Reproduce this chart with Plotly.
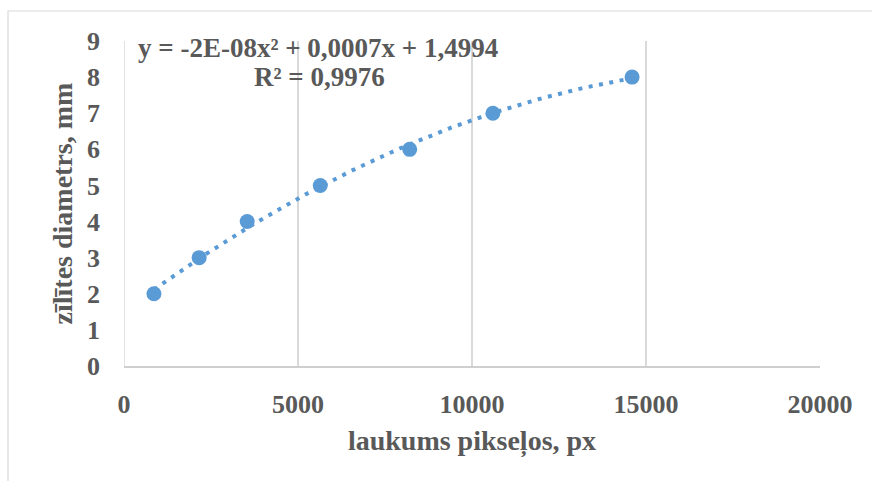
import numpy as np
import plotly.graph_objects as go

# Measured pixel area vs. pupil diameter
area_px = [860, 2160, 3540, 5640, 8210, 10600, 14600]
diameter_mm = [2, 3, 4, 5, 6, 7, 8]

x_ticks = [0, 5000, 10000, 15000, 20000]
x_tick_text = ["0", "5000", "10000", "15000", "20000"]
y_ticks = [0, 1, 2, 3, 4, 5, 6, 7, 8, 9]

eq_line1 = "y = -2E-08x² + 0,0007x + 1,4994"
eq_line2 = "R² = 0,9976"

BLUE = "#5B9BD5"
TEXT = "#595959"
GRID = "#D9D9D9"
FONT = "Liberation Serif"

# Second-order polynomial trendline over the data span
coef = np.polyfit(area_px, diameter_mm, 2)
xt = np.linspace(min(area_px), max(area_px), 200)
yt = np.polyval(coef, xt)

fig = go.Figure()
fig.add_trace(go.Scatter(
    x=xt, y=yt, mode="lines",
    line=dict(color=BLUE, width=4, dash="4px,6.5px"),
    hoverinfo="skip",
))
fig.add_trace(go.Scatter(
    x=area_px, y=diameter_mm, mode="markers",
    marker=dict(color=BLUE, size=15, line=dict(width=0)),
))


def px_x(p):
    return (p - 124) / 696


def px_y(p):
    return (366 - p) / 325


fig.update_layout(
    width=872, height=481,
    margin=dict(l=124, r=52, t=41, b=115),
    paper_bgcolor="white", plot_bgcolor="white",
    showlegend=False,
    font=dict(family=FONT, color=TEXT),
    xaxis=dict(
        range=[0, 20000], tickvals=x_ticks, ticktext=x_tick_text,
        tickfont=dict(size=26, family=FONT, color=TEXT, weight="bold"),
        showgrid=True, gridcolor=GRID, gridwidth=1.5,
        showline=True, linecolor="#CFCFCF", linewidth=2,
        zeroline=False, ticks="", ticklabelstandoff=14,
        title=dict(text="laukums pikseļos, px", standoff=12,
                   font=dict(size=28, family=FONT, color=TEXT, weight="bold")),
    ),
    yaxis=dict(
        range=[0, 9], tickvals=y_ticks,
        tickfont=dict(size=26, family=FONT, color=TEXT, weight="bold"),
        showgrid=False, showline=False, zeroline=False,
        ticks="", ticklabelstandoff=23,
        title=dict(text="zīlītes diametrs, mm", standoff=6,
                   font=dict(size=28, family=FONT, color=TEXT, weight="bold")),
    ),
    shapes=[
        # vertical gridline at x = 0
        dict(type="line", xref="x", yref="paper", x0=0, x1=0, y0=0, y1=1,
             line=dict(color=GRID, width=1.5), layer="below"),
        # chart outer border
        dict(type="rect", xref="paper", yref="paper",
             x0=px_x(8), x1=px_x(900), y0=px_y(500), y1=px_y(11),
             line=dict(color=GRID, width=1.2), fillcolor="rgba(0,0,0,0)"),
    ],
    annotations=[
        dict(text=eq_line1, xref="paper", yref="paper",
             x=px_x(318), y=px_y(48), xanchor="center", yanchor="middle",
             showarrow=False,
             font=dict(size=27, family=FONT, color=TEXT, weight="bold")),
        dict(text=eq_line2, xref="paper", yref="paper",
             x=px_x(319), y=px_y(77), xanchor="center", yanchor="middle",
             showarrow=False,
             font=dict(size=27, family=FONT, color=TEXT, weight="bold")),
    ],
)

fig.write_html("out.html")
